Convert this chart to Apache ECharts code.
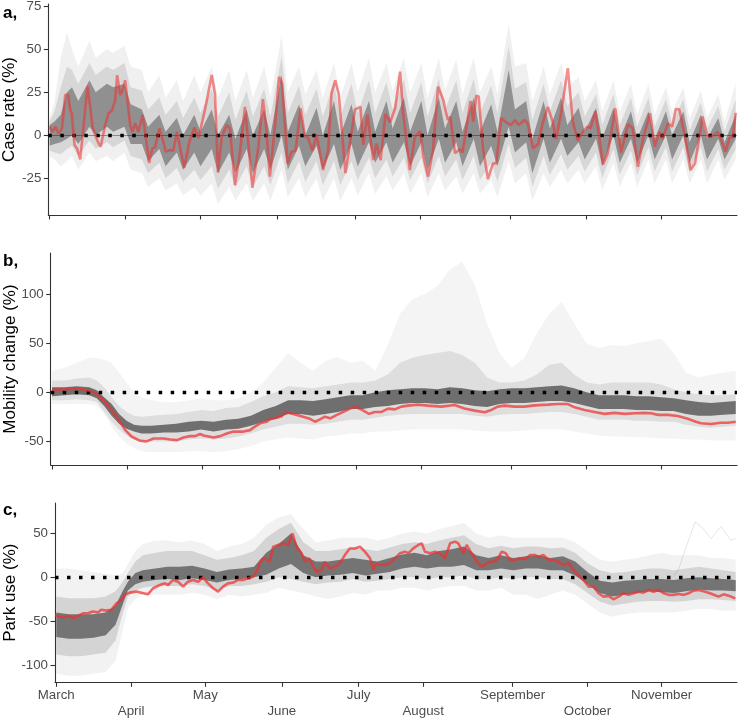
<!DOCTYPE html>
<html><head><meta charset="utf-8">
<script src="https://cdn.jsdelivr.net/npm/echarts@6/dist/echarts.min.js"></script>
<style>html,body{margin:0;padding:0;background:#fff}#c{width:738px;height:720px}</style>
</head><body><div id="c"></div><script>
// ---------- DATA (x = days since 1 March) ----------
const tickDays = [0, 30.3, 60.3, 91.3, 122.4, 148.5, 184.7, 215, 245];
const tickLabels = ['March','April','May','June','July','August','September','October','November'];
const yTicksCase = [-25, 0, 25, 50, 75];
const yTicksMobility = [-50, 0, 50, 100];
const yTicksPark = [-100, -50, 0, 50];
const yTitles = ['Case rate (%)', 'Mobility change (%)', 'Park use (%)'];
const panelLetters = ['a,', 'b,', 'c,'];

// panel a red line
const caseRed = [[0,5],[1.2,2],[2.3,5],[3.6,1],[5,4],[6.3,23.5],[7.4,23.5],[8.3,14.7],[8.9,12.8],[10,-5.6],[11,-7.6],[12.3,-14],[13.6,5],[15.2,28.5],[16.3,16.7],[17.2,5],[18.3,0.2],[19.6,-4.6],[20.5,-6.6],[22.3,6],[23.6,12.8],[25,14.4],[26.3,20.6],[27.1,35],[28.3,23.5],[29.2,26],[30.3,32],[31.2,20.6],[32.3,6],[33.2,2],[34.3,7],[35.6,2],[37.3,11.8],[38.3,2],[39.9,-16],[41.2,-7.6],[42.3,-7],[44,4],[45.2,-1.8],[46.6,-9.5],[48.3,-8.5],[49.6,-8.9],[51,2],[54,-19],[56,-4],[58,4.5],[59.7,-1.5],[62.3,15],[65,35],[66.3,24],[67.5,-21.5],[69,-1],[71,6],[72.3,4],[74.3,-29],[76.3,-10],[78.3,16.5],[81.3,-30.5],[83.7,-6.6],[85.5,21],[86.8,5],[88.3,-24],[90.3,5],[92,34],[93.2,30],[95.4,-16.5],[97,-9.5],[98.6,-9],[100.6,15.7],[102.4,-1],[103.5,-1],[105.3,-9],[107,0.5],[109.6,-20.2],[111.7,-8.5],[113,24.5],[114.5,32],[115.9,24],[118.6,-22],[120,-8.5],[122.4,15],[124.6,16.5],[125.7,-5.5],[127.4,12],[129.7,-14.4],[131,-4.8],[132.7,-14.4],[134.6,12.5],[136.5,7.5],[138.5,15.7],[140.5,37],[141.7,13],[142.5,12],[144.4,-20.2],[146.4,-1],[148.5,2.5],[149.8,-12],[151.7,-24],[153.7,-8.5],[155.7,28.3],[157.8,20.6],[158.6,15],[159.6,9],[160.6,10.8],[162.5,-10.5],[164.5,-8],[165.5,-10],[168.7,20],[169.8,8],[171,23],[172,22.5],[173.7,-8],[175.7,-25.5],[177.7,-16.3],[179,-16.3],[181,10],[183,7.5],[185,6],[186.5,8.9],[188,6],[190.4,8.9],[191.6,7],[193.8,-7.6],[195.8,-5],[197.6,7],[199.7,16.5],[201.6,8],[203,-2.2],[205,13],[207.7,39],[209.7,8],[211.7,-3],[213.7,2],[215.6,5],[216.8,4],[218.7,14],[220,2],[221.8,-17],[223.7,-10.5],[226.7,15.7],[229,-10],[231.8,6.5],[233.7,4],[235.8,-18.3],[238,-1],[240.6,12.8],[242.6,-6.6],[244.4,2],[245.7,-2],[247.8,7],[249.5,5],[251,15.3],[252.4,15],[254.4,1],[256.9,-20.2],[258.7,-16.3],[261.7,10.9],[263.7,-1],[265.7,-0.5],[267.7,2],[269,-2],[270.9,-9.5],[272.5,-1.5],[273.8,-1],[275,13]];

// panel a grey cloud: [day, outerLo, midLo, coreLo, coreHi, midHi, outerHi]
const caseGrey = [[0,-12,-9,-6,6,8,10],[2,-14,-10,-5,8,14,20],[4.5,-18,-11,-4,12,28,45],[7,-15,-8,-2,25,40,60],[9,-12,-6,0,28,38,50],[11.5,-20,-12,-5,20,30,40],[16,-10,-3,5,32,42,55],[18.5,-15,-8,0,25,35,45],[23,-12,-4,5,30,40,50],[25.5,-15,-7,2,28,38,48],[30,-10,-3,5,30,42,52],[32.5,-20,-12,-5,18,28,40],[37,-22,-14,-5,15,26,38],[39.5,-30,-22,-15,5,15,25],[44,-25,-16,-8,12,22,35],[46.5,-32,-25,-18,2,12,22],[51,-28,-19,-10,10,20,32],[53.5,-35,-27,-20,0,10,20],[58,-30,-20,-10,12,22,35],[60.5,-35,-26,-18,2,13,25],[65,-28,-18,-8,15,27,40],[67.5,-40,-31,-22,0,11,22],[72,-30,-20,-10,12,25,38],[74.5,-38,-30,-22,-2,9,20],[79,-28,-18,-8,15,26,38],[81.5,-38,-30,-22,0,11,22],[86,-28,-18,-8,15,27,40],[88.5,-38,-29,-20,0,11,22],[93,-20,-10,0,35,46,58],[95.5,-36,-28,-20,2,13,25],[100,-25,-15,-6,18,29,40],[102.5,-36,-27,-18,0,12,24],[107,-25,-15,-6,16,27,38],[109.5,-38,-29,-20,0,11,22],[114,-25,-15,-5,20,31,42],[116.5,-38,-29,-20,0,11,22],[121,-25,-15,-5,18,30,42],[123.5,-35,-26,-18,2,13,25],[128,-22,-13,-4,20,32,45],[130.5,-34,-25,-16,2,13,25],[135,-24,-14,-4,20,31,42],[137.5,-32,-24,-16,4,15,26],[142,-22,-13,-4,22,33,45],[144.5,-34,-26,-18,2,13,25],[149,-22,-13,-4,20,31,42],[151.5,-36,-28,-20,0,11,22],[156,-22,-12,-2,22,33,45],[158.5,-32,-24,-16,4,15,26],[163,-24,-14,-4,20,32,44],[165.5,-34,-26,-18,2,13,24],[170,-22,-12,-2,22,33,45],[172.5,-34,-26,-18,2,13,25],[177,-26,-16,-6,18,29,40],[179.5,-36,-27,-18,2,13,24],[184,-15,-5,5,38,52,65],[186.5,-28,-19,-10,15,27,40],[191,-22,-13,-4,20,31,42],[193.5,-38,-30,-22,-2,9,20],[198,-22,-12,-2,20,30,40],[200.5,-30,-23,-16,4,14,24],[205,-20,-11,-2,22,32,42],[207.5,-28,-20,-12,6,17,28],[212,-20,-12,-4,16,25,34],[214.5,-28,-21,-14,2,11,20],[219,-18,-10,-2,16,24,32],[221.5,-32,-25,-18,-2,6,14],[226,-16,-8,0,16,24,32],[228.5,-30,-23,-16,-2,6,14],[233,-16,-9,-2,14,22,30],[235.5,-30,-23,-16,-2,5,12],[240,-14,-7,0,14,22,30],[242.5,-28,-21,-14,-2,5,12],[247,-14,-7,0,14,21,28],[249.5,-28,-21,-14,0,7,14],[254,-14,-7,0,14,21,28],[256.5,-28,-22,-16,-4,3,10],[261,-14,-7,0,12,19,26],[263.5,-28,-21,-14,-2,4,10],[268,-14,-8,-2,10,17,24],[270.5,-26,-20,-14,-4,2,8],[275,-14,-8,-2,12,21,30]];

// panel b red line
const mobilityRed = [[0,2.3],[6,3],[10,4],[14.7,1.7],[17.4,-1],[20.8,-8],[24,-18],[26.8,-28],[29.5,-38.5],[32,-45],[35.5,-49.4],[38,-50],[40.9,-47],[44.9,-47],[47.6,-48],[50.3,-48.7],[52.9,-46],[55.6,-44.6],[57.6,-44.6],[59.6,-42.5],[61,-44],[65,-46],[67.7,-44.6],[70.3,-42],[73,-40],[77,-40],[79.7,-38.5],[81,-36],[83.7,-31.6],[86.4,-30],[87.7,-27.5],[90.4,-26],[92.4,-24.4],[93.8,-20],[95.8,-21.4],[98.5,-23],[101,-24.8],[103.8,-27],[105.8,-30],[107.8,-27.5],[109.8,-24.8],[111.9,-26.5],[114.6,-23],[117.2,-20],[119.9,-16.6],[121.9,-14.6],[124,-17],[127.5,-22],[129.8,-20],[132.5,-20],[135.2,-16.6],[137.9,-17.4],[140.5,-14.6],[143.2,-13.6],[147.2,-12.6],[151.2,-13.6],[156.6,-14.6],[161.9,-13],[165.9,-16.6],[170,-18.7],[174,-20.4],[176.7,-18],[179.3,-14.6],[182,-13.6],[186,-14.6],[190,-14.6],[194,-13.3],[199.5,-12.6],[203.5,-12],[207.5,-12],[210.2,-15.3],[214.2,-18],[218.2,-20],[222.2,-22],[226.3,-21],[230.3,-22],[234.3,-21.4],[238.4,-21],[241,-21.4],[243.7,-23],[247.7,-23],[251.7,-24.2],[255.7,-27],[259,-30],[261,-31.6],[265,-32.3],[269,-31],[271.8,-31],[275,-30]];

// panel b grey cloud: [day, outerLo, midLo, coreLo, coreHi, midHi, outerHi]
const mobilityGrey = [[0,-12,-8,-4,5,12,22],[5,-12,-8,-3,5,12,25],[10,-12,-7,-2,6,14,30],[15,-12,-8,-3,5,15,35],[18,-14,-10,-6,2,12,35],[21,-22,-20,-14,-5,5,33],[24,-35,-30,-24,-12,-5,30],[27,-45,-38,-32,-22,-14,20],[30,-52,-44,-37,-29,-20,10],[33,-57,-48,-40,-33,-24,0],[36,-60,-50,-42,-34,-25,-5],[40,-61,-50,-42,-34,-24,-8],[45,-61,-50,-41,-33,-23,-10],[50,-61,-50,-41,-32,-22,-10],[55,-60,-48,-40,-30,-20,-8],[60,-60,-47,-38,-29,-18,-6],[65,-61,-48,-40,-30,-19,-8],[70,-60,-47,-38,-28,-16,-8],[75,-58,-45,-37,-27,-15,-6],[80,-55,-42,-34,-24,-10,0],[85,-50,-38,-30,-18,-4,10],[90,-48,-35,-27,-14,0,25],[95,-46,-32,-22,-8,6,40],[100,-47,-32,-22,-8,5,30],[105,-48,-33,-24,-9,4,22],[110,-45,-32,-22,-7,6,32],[115,-44,-30,-20,-5,8,36],[120,-42,-28,-17,-3,10,30],[125,-42,-28,-17,-3,10,32],[130,-40,-26,-15,0,12,22],[135,-40,-24,-14,2,18,48],[140,-39,-23,-12,3,30,80],[145,-38,-22,-11,4,35,95],[150,-38,-22,-11,4,38,100],[155,-38,-22,-12,3,40,108],[160,-38,-22,-11,5,42,125],[165,-38,-22,-12,4,38,133],[170,-39,-24,-14,2,30,110],[175,-40,-25,-15,1,15,70],[180,-40,-23,-12,3,10,40],[185,-40,-22,-11,4,10,25],[190,-39,-22,-11,4,12,35],[195,-38,-21,-10,5,18,60],[200,-38,-20,-9,6,28,80],[205,-38,-20,-9,7,30,92],[210,-40,-22,-11,4,18,70],[215,-42,-25,-14,0,10,50],[220,-44,-28,-17,-3,8,45],[225,-45,-28,-17,-3,10,48],[230,-45,-28,-17,-3,10,47],[235,-46,-29,-18,-4,10,50],[240,-46,-29,-18,-4,10,52],[245,-47,-30,-19,-5,8,55],[250,-47,-30,-19,-6,3,40],[255,-48,-33,-22,-8,0,20],[260,-48,-35,-24,-10,-2,15],[265,-49,-36,-24,-11,-3,18],[270,-49,-35,-23,-10,-3,20],[275,-49,-34,-22,-9,-2,22]];

// panel c red line
const parkRed = [[-0.5,-43],[1.3,-45],[3.4,-45.5],[5.4,-44],[6.7,-46.7],[8.8,-44],[10.8,-41],[12.8,-41],[14.8,-39],[16.9,-40],[18.2,-37],[20.2,-38],[22.3,-37],[24.3,-30],[26.3,-26],[27.7,-20],[29.7,-17.5],[32.4,-16.3],[34.4,-17.5],[37.1,-19.4],[39.2,-12.5],[41.9,-8.8],[43.9,-6.9],[45.3,-8.8],[47.3,-3],[49.3,-5],[51.3,-10.7],[53.3,-5],[55.4,-3],[57.4,-5],[59.4,0],[61.4,-6.9],[63.5,-12.5],[65.5,-16.3],[67.5,-10.7],[69.5,-6.9],[71.6,-6],[73.6,-3],[75.6,-3],[77.7,-1.2],[79.7,0.7],[81,6.4],[83,19.7],[84.4,21.6],[86.4,17.8],[87.8,34.9],[89.8,36.8],[91.8,38.7],[93.9,36.8],[95.6,50],[97.2,34.9],[99.3,27.3],[100.6,17.8],[102.4,21.6],[104,12],[105.3,6.4],[107.4,8.3],[108.7,17.8],[110.7,10.2],[112.8,12],[114.8,15.8],[116.8,25.3],[118.8,32.8],[120.9,32.8],[122.9,34.9],[124.9,29.2],[127,21.6],[128.3,8.3],[129.6,15.8],[131.7,13.9],[133,14],[135,15.9],[137,21.6],[139.1,27.3],[141.1,29.2],[142.5,27.5],[144.5,33],[146.5,36.8],[147.9,38.7],[149.2,29.2],[151.3,27.3],[153.3,29.2],[155.3,27.3],[157.3,21.6],[159.4,38.7],[161.4,40.6],[162.7,38.7],[164.8,27.3],[166.1,36.8],[168.1,27.3],[170.2,17.8],[172.2,12],[174.2,15.9],[176.2,17.8],[178.3,19.7],[180.3,29.2],[181.9,27.3],[183.7,19.7],[185.7,19.7],[187.7,21.6],[189.7,20.5],[191.8,25.3],[193.8,25.3],[195.2,23.5],[197.2,25.3],[199.2,19.7],[201.2,19.7],[203.3,17.8],[205.3,14],[207.3,15.9],[209.3,8.3],[211.3,2.6],[213.4,-3],[215.4,-10.6],[217.4,-10.6],[219.5,-18.2],[221.5,-22],[223.5,-21.3],[225.5,-25],[227.6,-22],[229.6,-18.2],[231.6,-20],[233.6,-18.2],[235.7,-16.4],[237.7,-17.5],[239.7,-14.5],[241.7,-16.4],[243.8,-14.5],[245.8,-18.2],[247.8,-20],[249.8,-20],[251.9,-19],[253.9,-20],[255.9,-18.2],[257.9,-15.2],[260,-14.5],[262.7,-16.4],[265.4,-19],[268,-22],[270.1,-19.4],[272.1,-20.9],[274.8,-24]];

// panel c grey cloud: [day, outerLo, midLo, coreLo, coreHi, midHi, outerHi]
const parkGrey = [[0,-110,-88,-68,-40,-22,10],[5,-112,-90,-70,-42,-24,10],[10,-112,-90,-70,-42,-24,8],[15,-110,-88,-69,-42,-24,6],[20,-108,-86,-66,-40,-22,4],[24,-95,-72,-54,-32,-16,2],[27,-60,-40,-30,-15,-5,5],[29,-35,-22,-15,-5,5,15],[32,-25,-15,-8,5,18,30],[35,-20,-12,-5,8,25,38],[40,-20,-10,-3,10,28,42],[45,-20,-10,-2,12,30,42],[50,-20,-10,-3,12,30,40],[55,-18,-8,-1,13,30,42],[60,-20,-10,-3,10,25,38],[65,-25,-15,-6,6,20,30],[70,-20,-10,-3,9,22,35],[75,-22,-10,-2,10,25,38],[80,-20,-8,0,12,30,45],[85,-18,-5,3,28,45,60],[90,-12,0,10,38,55,68],[95,-15,-2,15,50,62,72],[100,-18,-5,5,25,40,55],[105,-22,-8,0,18,30,40],[110,-25,-6,2,18,30,42],[115,-22,-5,3,20,32,45],[120,-18,-2,5,22,34,45],[125,-20,-5,2,20,32,45],[130,-15,-4,4,18,30,42],[135,-15,-2,6,22,34,45],[140,-12,0,10,26,38,50],[145,-12,0,12,28,40,52],[150,-15,-2,10,25,38,50],[155,-12,0,12,30,42,55],[160,-10,0,12,32,45,58],[165,-10,2,14,35,48,62],[170,-15,-2,8,25,38,50],[175,-15,-2,8,22,33,45],[180,-12,0,10,25,36,48],[185,-20,-2,8,22,33,45],[190,-20,0,10,24,35,45],[195,-25,0,10,25,35,45],[200,-20,-2,8,22,33,45],[205,-15,-2,8,24,34,45],[210,-20,-8,2,18,28,40],[215,-30,-18,-8,6,16,30],[220,-40,-28,-18,-4,8,20],[225,-45,-32,-22,-6,5,18],[230,-42,-30,-20,-4,6,20],[235,-40,-28,-18,-3,8,22],[240,-40,-27,-16,-2,10,25],[245,-40,-27,-17,-2,10,28],[250,-40,-28,-18,-3,8,25],[255,-38,-27,-16,-1,10,25],[260,-36,-25,-14,0,12,25],[265,-36,-25,-15,-1,10,22],[270,-38,-26,-15,-2,8,22],[275,-38,-27,-16,-3,6,20]];
// single high outlier line in panel c (November)
const parkOutlier = [[250,2],[252,10],[254.5,31],[258.5,63],[261,58],[265,44],[269,58],[273,42],[275,44]];

// ---------- LAYOUT / STYLE ----------
const FONT = '"Liberation Sans", Arial, Helvetica, sans-serif';
const RIGHT_EDGE = 737;
const X_MIN = -0.5, X_MAX = 275.5;
const panels = [
  {left: 48.3, top: 4,   height: 211,   min: -46.3,  max: 76.3,  ticks: yTicksCase,     nameGap: 30,   letterTop: 5},
  {left: 50.7, top: 253, height: 212,   min: -74,    max: 141.7, ticks: yTicksMobility, nameGap: 32.2, letterTop: 253},
  {left: 55,   top: 503, height: 179.3, min: -119.6, max: 84.6,  ticks: yTicksPark,     nameGap: 36.5, letterTop: 502}
];
const AXIS_COLOR = '#333';
const LABEL_COLOR = '#4d4d4d';
const zeroLine = {silent: true, symbol: ['none','none'], label: {show: false}, animation: false,
  lineStyle: {color: '#000', type: [3.5, 8.5], width: 3.3}, data: [{yAxis: 0}]};

const grids = [], xAxes = [], yAxes = [], series = [], graphics = [];

function monthLabel(v) {
  let k = 0, best = Infinity;
  tickDays.forEach((d, i) => { if (Math.abs(d - v) < best) { best = Math.abs(d - v); k = i; } });
  return (k % 2 ? '\n' : '') + tickLabels[k];
}

panels.forEach((p, i) => {
  grids.push({left: p.left, top: p.top, width: RIGHT_EDGE - p.left, height: p.height, outerBoundsMode: 'none', containLabel: false});
  xAxes.push({
    type: 'value', gridIndex: i, min: X_MIN, max: X_MAX,
    axisLine: {show: true, onZero: false, lineStyle: {color: AXIS_COLOR, width: 1.1}},
    axisTick: {show: true, customValues: tickDays, length: 4.5, lineStyle: {color: AXIS_COLOR, width: 1.1}},
    axisLabel: i === 2 ? {show: true, customValues: tickDays, formatter: monthLabel, color: LABEL_COLOR,
      fontSize: 13.3, lineHeight: 16, margin: 5, fontFamily: FONT} : {show: false},
    splitLine: {show: false}
  });
  yAxes.push({
    type: 'value', gridIndex: i, min: p.min, max: p.max,
    axisLine: {show: true, onZero: false, lineStyle: {color: AXIS_COLOR, width: 1.1}},
    axisTick: {show: true, customValues: p.ticks, length: 4.5, lineStyle: {color: AXIS_COLOR, width: 1.1}},
    axisLabel: {show: true, customValues: p.ticks, color: LABEL_COLOR, fontSize: 13.3, margin: 7, fontFamily: FONT},
    splitLine: {show: false},
    name: yTitles[i], nameLocation: 'middle', nameGap: p.nameGap, nameMoveOverlap: false,
    nameTextStyle: {color: '#000', fontSize: 17, fontFamily: FONT}
  });
  graphics.push({type: 'text', left: 3, top: p.letterTop,
    style: {text: panelLetters[i], font: 'bold 17px ' + FONT, fill: '#000'}});
});

// band drawn as one polygon through the axis scales (api.coord)
function addBand(p, rows, loCol, hiCol, opacity, markLine) {
  const s = {
    type: 'custom', xAxisIndex: p, yAxisIndex: p, silent: true, z: 2, clip: true,
    data: rows.map(r => [r[0], r[loCol], r[hiCol]]),
    encode: {x: 0, y: [1, 2]},
    renderItem: function (params, api) {
      if (params.dataIndex !== 0) return null;
      const pts = [];
      for (let k = 0; k < rows.length; k++) pts.push(api.coord([rows[k][0], rows[k][loCol]]));
      for (let k = rows.length - 1; k >= 0; k--) pts.push(api.coord([rows[k][0], rows[k][hiCol]]));
      return {type: 'polygon', shape: {points: pts}, style: {fill: 'rgba(0,0,0,' + opacity + ')', stroke: null}};
    }
  };
  if (markLine) s.markLine = markLine;
  series.push(s);
}
function addRed(p, data, opacity) {
  series.push({type: 'line', xAxisIndex: p, yAxisIndex: p, data: data, symbol: 'none', silent: true, z: 6,
    lineStyle: {color: '#EE3030', width: 2.6, opacity: opacity}});
}

// panel a
addBand(0, caseGrey, 1, 6, 0.06, {silent: true, symbol: ['none','none'], label: {show: false}, animation: false,
  lineStyle: {color: 'rgba(0,0,0,0.45)', type: 'solid', width: 0.8}, data: [{yAxis: 0}]});
addBand(0, caseGrey, 2, 5, 0.1);
addBand(0, caseGrey, 3, 4, 0.33, zeroLine);
addRed(0, caseRed, 0.55);
// panel b
addBand(1, mobilityGrey, 1, 6, 0.045);
addBand(1, mobilityGrey, 2, 5, 0.09);
addBand(1, mobilityGrey, 3, 4, 0.5, zeroLine);
addRed(1, mobilityRed, 0.72);
// panel c
addBand(2, parkGrey, 1, 6, 0.05);
addBand(2, parkGrey, 2, 5, 0.12);
addBand(2, parkGrey, 3, 4, 0.45, zeroLine);
series.push({type: 'line', xAxisIndex: 2, yAxisIndex: 2, data: parkOutlier, symbol: 'none', silent: true, z: 3,
  lineStyle: {color: '#000', width: 1, opacity: 0.1}});
addRed(2, parkRed, 0.72);

const chart = echarts.init(document.getElementById('c'), null, {renderer: 'canvas'});
chart.setOption({
  animation: false,
  backgroundColor: '#fff',
  textStyle: {fontFamily: FONT},
  grid: grids, xAxis: xAxes, yAxis: yAxes, series: series, graphic: graphics
});
</script></body></html>
